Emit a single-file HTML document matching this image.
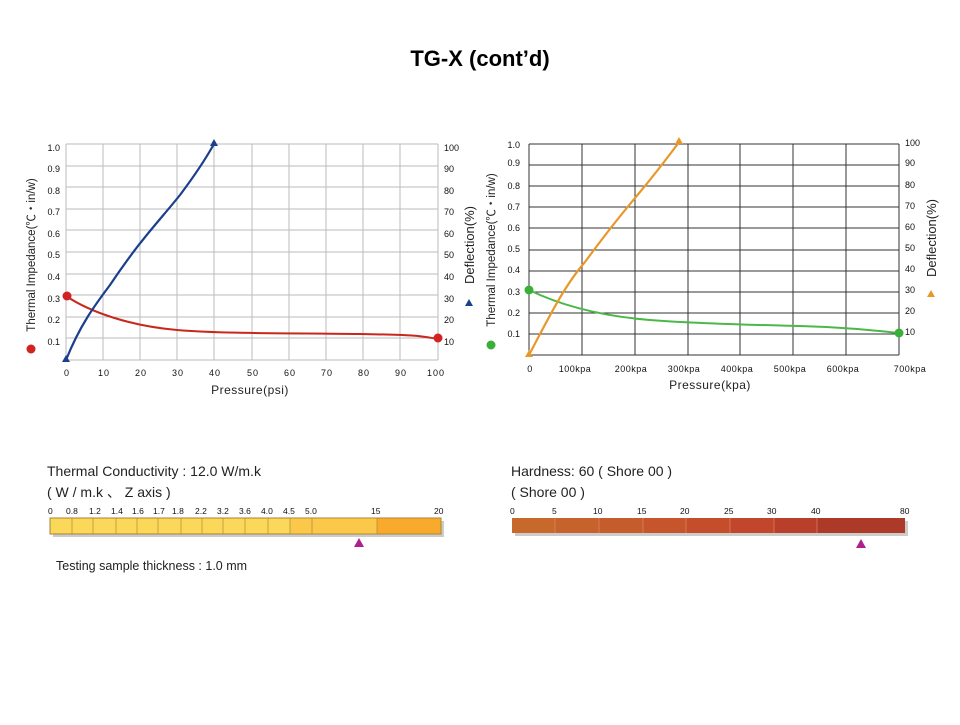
<!DOCTYPE html>
<html><head><meta charset="utf-8"><style>
body{margin:0;background:#fff;width:960px;height:720px;overflow:hidden;font-family:"Liberation Sans","Noto Sans CJK SC",sans-serif}
</style></head><body>
<svg width="960" height="720" viewBox="0 0 960 720" xmlns="http://www.w3.org/2000/svg" font-family="Liberation Sans, Noto Sans CJK SC, sans-serif">
<text x="480" y="66" text-anchor="middle" font-size="22" font-weight="bold">TG-X (cont’d)</text>

<!-- Left chart -->
<g stroke="#bbb" stroke-width="1">
<line x1="66" y1="144" x2="438" y2="144"/><line x1="66" y1="166" x2="438" y2="166"/><line x1="66" y1="187" x2="438" y2="187"/><line x1="66" y1="209" x2="438" y2="209"/><line x1="66" y1="230" x2="438" y2="230"/><line x1="66" y1="252" x2="438" y2="252"/><line x1="66" y1="274" x2="438" y2="274"/><line x1="66" y1="295" x2="438" y2="295"/><line x1="66" y1="317" x2="438" y2="317"/><line x1="66" y1="338" x2="438" y2="338"/><line x1="66" y1="360" x2="438" y2="360"/>
<line x1="66" y1="144" x2="66" y2="360"/><line x1="103" y1="144" x2="103" y2="360"/><line x1="140" y1="144" x2="140" y2="360"/><line x1="177" y1="144" x2="177" y2="360"/><line x1="214" y1="144" x2="214" y2="360"/><line x1="252" y1="144" x2="252" y2="360"/><line x1="289" y1="144" x2="289" y2="360"/><line x1="326" y1="144" x2="326" y2="360"/><line x1="363" y1="144" x2="363" y2="360"/><line x1="400" y1="144" x2="400" y2="360"/><line x1="438" y1="144" x2="438" y2="360"/>
</g>
<g font-size="9" fill="#111" text-anchor="end">
<text x="60" y="151">1.0</text><text x="60" y="172">0.9</text><text x="60" y="194">0.8</text><text x="60" y="215">0.7</text><text x="60" y="237">0.6</text><text x="60" y="258">0.5</text><text x="60" y="280">0.4</text><text x="60" y="302">0.3</text><text x="60" y="323">0.2</text><text x="60" y="345">0.1</text>
</g>
<g font-size="9" fill="#111">
<text x="444" y="151">100</text><text x="444" y="172">90</text><text x="444" y="194">80</text><text x="444" y="215">70</text><text x="444" y="237">60</text><text x="444" y="258">50</text><text x="444" y="280">40</text><text x="444" y="302">30</text><text x="444" y="323">20</text><text x="444" y="345">10</text>
</g>
<g font-size="9" fill="#111" text-anchor="middle" letter-spacing="1">
<text x="67" y="376">0</text><text x="104" y="376">10</text><text x="141" y="376">20</text><text x="178" y="376">30</text><text x="215" y="376">40</text><text x="253" y="376">50</text><text x="290" y="376">60</text><text x="327" y="376">70</text><text x="364" y="376">80</text><text x="401" y="376">90</text><text x="436" y="376">100</text>
</g>
<text x="250" y="394" font-size="12" text-anchor="middle" fill="#222" letter-spacing="0.5">Pressure(psi)</text>
<text transform="translate(35,255) rotate(-90)" font-size="11.5" text-anchor="middle" fill="#222">Thermal Impedance(℃・in/w)</text>
<circle cx="31" cy="349" r="4.5" fill="#d32222"/>
<text transform="translate(474,245) rotate(-90)" font-size="13" text-anchor="middle" fill="#222">Deflection(%)</text>
<polygon points="469,299 465,306 473,306" fill="#1a3f8f"/>
<path d="M66,296 C90,312 130,326 177,330 S300,333 360,334 S420,336 438,339" fill="none" stroke="#c8281c" stroke-width="2"/>
<path d="M66,360 C80,325 95,305 110,285 C140,240 160,220 180,195 C195,175 205,160 214,144" fill="none" stroke="#1a3f8f" stroke-width="2.2"/>
<circle cx="67" cy="296" r="4.5" fill="#d32222"/><circle cx="438" cy="338" r="4.5" fill="#d32222"/>
<polygon points="66,355 62,362 70,362" fill="#1a3f8f"/><polygon points="214,139 210,146 218,146" fill="#1a3f8f"/>

<!-- Right chart -->
<g stroke="#333" stroke-width="1">
<line x1="529" y1="144" x2="899" y2="144"/><line x1="529" y1="165" x2="899" y2="165"/><line x1="529" y1="186" x2="899" y2="186"/><line x1="529" y1="207" x2="899" y2="207"/><line x1="529" y1="228" x2="899" y2="228"/><line x1="529" y1="250" x2="899" y2="250"/><line x1="529" y1="271" x2="899" y2="271"/><line x1="529" y1="292" x2="899" y2="292"/><line x1="529" y1="313" x2="899" y2="313"/><line x1="529" y1="334" x2="899" y2="334"/><line x1="529" y1="355" x2="899" y2="355"/>
<line x1="529" y1="144" x2="529" y2="355"/><line x1="582" y1="144" x2="582" y2="355"/><line x1="635" y1="144" x2="635" y2="355"/><line x1="688" y1="144" x2="688" y2="355"/><line x1="740" y1="144" x2="740" y2="355"/><line x1="793" y1="144" x2="793" y2="355"/><line x1="846" y1="144" x2="846" y2="355"/><line x1="899" y1="144" x2="899" y2="355"/>
</g>
<g font-size="9" fill="#111" text-anchor="end">
<text x="520" y="148">1.0</text><text x="520" y="166">0.9</text><text x="520" y="189">0.8</text><text x="520" y="210">0.7</text><text x="520" y="231">0.6</text><text x="520" y="252">0.5</text><text x="520" y="273">0.4</text><text x="520" y="295">0.3</text><text x="520" y="316">0.2</text><text x="520" y="337">0.1</text>
</g>
<g font-size="9" fill="#111">
<text x="905" y="146">100</text><text x="905" y="166">90</text><text x="905" y="188">80</text><text x="905" y="209">70</text><text x="905" y="230">60</text><text x="905" y="251">50</text><text x="905" y="272">40</text><text x="905" y="293">30</text><text x="905" y="314">20</text><text x="905" y="335">10</text>
</g>
<g font-size="9" fill="#111" text-anchor="middle" letter-spacing="0.5">
<text x="530" y="372">0</text><text x="575" y="372">100kpa</text><text x="631" y="372">200kpa</text><text x="684" y="372">300kpa</text><text x="737" y="372">400kpa</text><text x="790" y="372">500kpa</text><text x="843" y="372">600kpa</text><text x="910" y="372">700kpa</text>
</g>
<text x="710" y="389" font-size="12" text-anchor="middle" fill="#222" letter-spacing="0.5">Pressure(kpa)</text>
<text transform="translate(495,250) rotate(-90)" font-size="11.5" text-anchor="middle" fill="#222">Thermal Impedance(℃・in/w)</text>
<circle cx="491" cy="345" r="4.5" fill="#3ab03a"/>
<text transform="translate(936,238) rotate(-90)" font-size="13" text-anchor="middle" fill="#222">Deflection(%)</text>
<polygon points="931,290 927,297 935,297" fill="#e8982a"/>
<path d="M529,290 C560,305 600,316 650,320 S760,325 800,326 S870,330 899,333" fill="none" stroke="#4cb848" stroke-width="2"/>
<path d="M529,355 C550,315 565,285 585,262 C610,228 625,210 640,192 C660,168 670,154 680,141" fill="none" stroke="#e8982a" stroke-width="2.2"/>
<circle cx="529" cy="290" r="4.5" fill="#3ab03a"/><circle cx="899" cy="333" r="4.5" fill="#3ab03a"/>
<polygon points="529,350 525,357 533,357" fill="#e8982a"/><polygon points="679,137 675,144 683,144" fill="#e8982a"/>

<!-- Conductivity bar -->
<text x="47" y="476" font-size="14" fill="#222">Thermal Conductivity :  12.0  W/m.k</text>
<text x="47" y="497" font-size="14" fill="#222">( W / m.k 、 Z axis )</text>
<g font-size="8.5" fill="#111">
<text x="48" y="514">0</text><text x="66" y="514">0.8</text><text x="89" y="514">1.2</text><text x="111" y="514">1.4</text><text x="132" y="514">1.6</text><text x="153" y="514">1.7</text><text x="172" y="514">1.8</text><text x="195" y="514">2.2</text><text x="217" y="514">3.2</text><text x="239" y="514">3.6</text><text x="261" y="514">4.0</text><text x="283" y="514">4.5</text><text x="305" y="514">5.0</text><text x="371" y="514">15</text><text x="434" y="514">20</text>
</g>
<rect x="53" y="521" width="391" height="16" fill="#ccc"/>
<rect x="50" y="518" width="391" height="16" fill="#fcd85a" stroke="#a08030" stroke-width="0.8"/>
<rect x="290" y="518" width="87" height="16" fill="#fcc84a"/>
<rect x="377" y="518" width="64" height="16" fill="#f9aa2c"/>
<rect x="50" y="518" width="391" height="16" fill="none" stroke="#a08030" stroke-width="0.8"/>
<g stroke="#a08030" stroke-width="0.6">
<line x1="72" y1="518" x2="72" y2="534"/><line x1="93" y1="518" x2="93" y2="534"/><line x1="116" y1="518" x2="116" y2="534"/><line x1="137" y1="518" x2="137" y2="534"/><line x1="158" y1="518" x2="158" y2="534"/><line x1="181" y1="518" x2="181" y2="534"/><line x1="202" y1="518" x2="202" y2="534"/><line x1="223" y1="518" x2="223" y2="534"/><line x1="245" y1="518" x2="245" y2="534"/><line x1="268" y1="518" x2="268" y2="534"/><line x1="290" y1="518" x2="290" y2="534"/><line x1="312" y1="518" x2="312" y2="534"/><line x1="377" y1="518" x2="377" y2="534"/>
</g>
<polygon points="359,538 354,547 364,547" fill="#b0208a"/>
<text x="56" y="570" font-size="12.5" fill="#222">Testing sample thickness :  1.0 mm</text>

<!-- Hardness bar -->
<text x="511" y="476" font-size="14" fill="#222">Hardness: 60  ( Shore 00 )</text>
<text x="511" y="497" font-size="14" fill="#222">( Shore  00 )</text>
<g font-size="8.5" fill="#111">
<text x="510" y="514">0</text><text x="552" y="514">5</text><text x="593" y="514">10</text><text x="637" y="514">15</text><text x="680" y="514">20</text><text x="724" y="514">25</text><text x="767" y="514">30</text><text x="811" y="514">40</text><text x="900" y="514">80</text>
</g>
<rect x="515" y="521" width="393" height="15" fill="#ccc"/>
<rect x="512" y="518" width="43" height="15" fill="#c8692c"/>
<rect x="555" y="518" width="44" height="15" fill="#c6622c"/>
<rect x="599" y="518" width="44" height="15" fill="#c55c2c"/>
<rect x="643" y="518" width="43" height="15" fill="#c6552c"/>
<rect x="686" y="518" width="44" height="15" fill="#c44e2c"/>
<rect x="730" y="518" width="44" height="15" fill="#c2462c"/>
<rect x="774" y="518" width="43" height="15" fill="#b8402a"/>
<rect x="817" y="518" width="88" height="15" fill="#ad3a28"/>
<g stroke="#e09070" stroke-width="0.6">
<line x1="555" y1="518" x2="555" y2="533"/><line x1="599" y1="518" x2="599" y2="533"/><line x1="643" y1="518" x2="643" y2="533"/><line x1="686" y1="518" x2="686" y2="533"/><line x1="730" y1="518" x2="730" y2="533"/><line x1="774" y1="518" x2="774" y2="533"/><line x1="817" y1="518" x2="817" y2="533"/>
</g>
<polygon points="861,539 856,548 866,548" fill="#b0208a"/>
</svg>
</body></html>
